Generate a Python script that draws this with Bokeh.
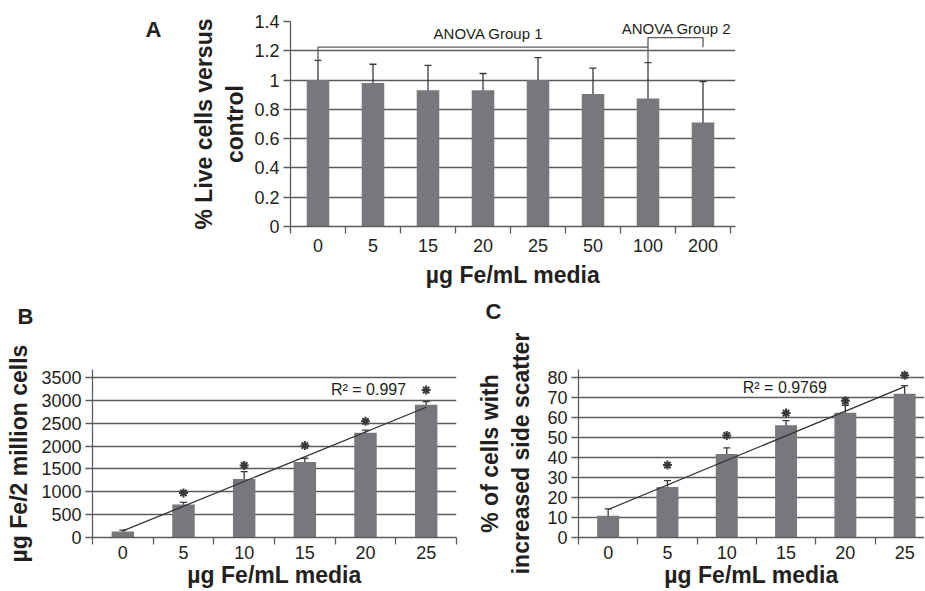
import numpy as np
from bokeh.plotting import figure
from bokeh.models import ColumnDataSource, FixedTicker, Whisker, TeeHead, Label, Range1d
from bokeh.layouts import column, row
from bokeh.core.properties import value
from bokeh.embed import file_html
from bokeh.resources import INLINE

# ---------------- data ----------------
# Panel A
a_categories = ["0", "5", "15", "20", "25", "50", "100", "200"]
a_values = [1.00, 0.98, 0.93, 0.93, 1.00, 0.905, 0.875, 0.71]
a_errors = [0.135, 0.128, 0.17, 0.115, 0.153, 0.177, 0.244, 0.28]
a_yticks = [0, 0.2, 0.4, 0.6, 0.8, 1.0, 1.2, 1.4]
a_ytick_labels = ["0", "0.2", "0.4", "0.6", "0.8", "1", "1.2", "1.4"]
anova_group1 = (0, 6)      # category indices spanned by bracket 1
anova_group2 = (6, 7)      # category indices spanned by bracket 2
anova_level1 = 1.225
anova_level2 = 1.29

# Panel B
b_categories = ["0", "5", "10", "15", "20", "25"]
b_values = [130, 720, 1281, 1650, 2290, 2902]
b_errors = [30, 50, 158, 83, 58, 72]
b_star_idx = [1, 2, 3, 4, 5]
b_star_y = [975, 1575, 2010, 2540, 3225]
b_yticks = [0, 500, 1000, 1500, 2000, 2500, 3000, 3500]
b_ytick_labels = ["0", "500", "1000", "1500", "2000", "2500", "3000", "3500"]
b_r2 = "R\u00b2 = 0.997"

# Panel C
c_categories = ["0", "5", "10", "15", "20", "25"]
c_values = [10.9, 25.3, 41.8, 56.1, 62.4, 71.8]
c_errors = [3.4, 3.1, 3.0, 2.3, 3.7, 4.1]
c_star_idx = [1, 2, 3, 4, 5]
c_star_y = [36.2, 51.0, 62.2, 68.3, 81.1]
c_yticks = [0, 10, 20, 30, 40, 50, 60, 70, 80]
c_ytick_labels = ["0", "10", "20", "30", "40", "50", "60", "70", "80"]
c_r2 = "R\u00b2 = 0.9769"

# ---------------- style ----------------
FONT = "Liberation Sans"
TEXT = "#231f20"
BAR = "#77787b"
GRID = "#5c5c5c"
ERR = "#3a3a3a"
XLABEL = "\u00b5g Fe/mL media"


def make_fig(width, height, mb_left, mb_right, mb_top, mb_bottom, xr, yr):
    p = figure(width=width, height=height, x_range=xr, y_range=yr,
               output_backend="svg", toolbar_location=None, tools="")
    p.min_border_left = mb_left
    p.min_border_right = mb_right
    p.min_border_top = mb_top
    p.min_border_bottom = mb_bottom
    p.outline_line_color = None
    p.background_fill_color = "white"
    p.border_fill_color = "white"
    return p


def style_axes(p, cats, yticks, ylabels, ylab, lab_std, xlab_standoff, ylab_standoff,
               xlab_size="23px", ylab_size="23px"):
    n = len(cats)
    p.xaxis.ticker = FixedTicker(ticks=list(range(n)),
                                 minor_ticks=[i - 0.5 for i in range(n + 1)])
    p.xaxis.major_label_overrides = {i: c for i, c in enumerate(cats)}
    p.xaxis.major_tick_line_color = None
    p.xaxis.major_tick_out = 0
    p.xaxis.major_tick_in = 0
    p.xaxis.minor_tick_line_color = GRID
    p.xaxis.minor_tick_line_width = 1.3
    p.xaxis.minor_tick_out = 7
    p.xaxis.minor_tick_in = 0
    p.xaxis.major_label_standoff = lab_std
    p.xaxis.axis_label = XLABEL
    p.xaxis.axis_label_standoff = xlab_standoff
    p.xaxis.axis_label_text_font_size = xlab_size

    p.yaxis.ticker = FixedTicker(ticks=yticks)
    p.yaxis.major_label_overrides = {t: l for t, l in zip(yticks, ylabels)}
    p.yaxis.major_tick_out = 7
    p.yaxis.major_tick_in = 0
    p.yaxis.major_tick_line_color = GRID
    p.yaxis.major_tick_line_width = 1.3
    p.yaxis.minor_tick_line_color = None
    p.yaxis.major_label_standoff = 4
    p.yaxis.axis_label = ylab
    p.yaxis.axis_label_standoff = ylab_standoff
    p.yaxis.axis_label_text_font_size = ylab_size

    for ax in (p.xaxis, p.yaxis):
        ax.axis_line_color = GRID
        ax.axis_line_width = 1.3
        ax.major_label_text_font = FONT
        ax.major_label_text_font_size = "18px"
        ax.major_label_text_color = TEXT
        ax.axis_label_text_font = FONT
        ax.axis_label_text_font_style = "bold"
        ax.axis_label_text_color = TEXT

    p.xgrid.grid_line_color = None
    p.ygrid.grid_line_color = GRID
    p.ygrid.grid_line_width = 1.3


def bars_with_errors(p, values, errors, bar_width):
    x = list(range(len(values)))
    src = ColumnDataSource(dict(
        x=x, top=values,
        upper=[v + e for v, e in zip(values, errors)],
        lower=[v - e for v, e in zip(values, errors)],
    ))
    p.vbar(x="x", top="top", width=bar_width, source=src,
           fill_color=BAR, line_color=None)
    w = Whisker(base="x", upper="upper", lower="lower", source=src,
                line_color=ERR, line_width=1.3,
                upper_head=TeeHead(size=7, line_color=ERR, line_width=1.3),
                lower_head=TeeHead(size=7, line_color=ERR, line_width=1.3))
    p.add_layout(w)


def trendline(p, values):
    x = np.arange(len(values))
    slope, intercept = np.polyfit(x, np.array(values, dtype=float), 1)
    xs = [x[0], x[-1]]
    p.line(xs, [intercept + slope * xs[0], intercept + slope * xs[1]],
           line_color="#333333", line_width=1.3)


def letter_fig(width, height, top, bottom, letters, xs, ys):
    """A plain strip (no axes) holding panel letters; y measured from the canvas top."""
    fh = height - top - bottom
    f = figure(width=width, height=height, x_range=Range1d(0, width),
               y_range=Range1d(0, fh), x_axis_type=None, y_axis_type=None,
               output_backend="svg", toolbar_location=None, tools="")
    f.min_border_left = 0
    f.min_border_right = 0
    f.min_border_top = top
    f.min_border_bottom = bottom
    f.outline_line_color = None
    f.grid.visible = False
    f.text(x=xs, y=[fh - (y - top) for y in ys], text=letters,
           text_font=value(FONT), text_font_style="bold", text_font_size="22px",
           text_color=TEXT, text_align="center", text_baseline="middle")
    return f


# ---------------- Panel A ----------------
A_LEFT = 180
A_TOP, A_BOTTOM = 21, 226
pA = make_fig(924 - A_LEFT, 290, 290 - A_LEFT, 924 - 735, A_TOP, 290 - A_BOTTOM,
              Range1d(-0.5, len(a_categories) - 0.5 + 5 / 55), Range1d(0, 1.4))
style_axes(pA, a_categories, a_yticks, a_ytick_labels,
           "% Live cells versus\ncontrol", 5, 7, 3)
bars_with_errors(pA, a_values, a_errors, 0.41)

g1a, g1b = anova_group1
g2a, g2b = anova_group2
top_a = [v + e for v, e in zip(a_values, a_errors)]
pA.multi_line(
    xs=[[g1a, g1a, g1b], [g1b, g1b], [g2a, g2b, g2b]],
    ys=[[top_a[g1a], anova_level1, anova_level1],
        [top_a[g1b], anova_level2],
        [anova_level2, anova_level2, anova_level1]],
    line_color=GRID, line_width=1.3)
pA.add_layout(Label(x=3.1, y=1.262, text="ANOVA Group 1", text_font=FONT,
                    text_font_size="15px", text_color=TEXT,
                    text_align="center", text_baseline="bottom"))
pA.add_layout(Label(x=6.52, y=1.293, text="ANOVA Group 2", text_font=FONT,
                    text_font_size="15px", text_color=TEXT,
                    text_align="center", text_baseline="bottom"))
letA = letter_fig(A_LEFT, 290, A_TOP, 290 - A_BOTTOM, ["A"], [153], [29])

# ---------------- letters strip for B and C ----------------
STRIP_TOP = 290
STRIP_H = 38
strip = letter_fig(924, STRIP_H, 0, 0, ["B", "C"], [25, 493],
                   [316 - STRIP_TOP, 311 - STRIP_TOP])

ROW2_TOP = STRIP_TOP + STRIP_H
ROW2_H = 590 - ROW2_TOP
FRAME_TOP = 369      # frame top of B and C (room for the top asterisk in C)
GRID_TOP = 377       # pixel row of the top gridline (3500 / 80)
AXIS_Y = 538         # pixel row of the x axis
MB_BOTTOM = 590 - AXIS_Y

# ---------------- Panel B ----------------
b_y_end = b_yticks[-1] * (AXIS_Y - FRAME_TOP) / (AXIS_Y - GRID_TOP)
pB = make_fig(470, ROW2_H, 92, 470 - 456, FRAME_TOP - ROW2_TOP, MB_BOTTOM,
              Range1d(-0.5, len(b_categories) - 0.5), Range1d(0, b_y_end))
style_axes(pB, b_categories, b_yticks, b_ytick_labels,
           "\u00b5g Fe/2 million cells", 1, 0, 6)
bars_with_errors(pB, b_values, b_errors, 0.37)
trendline(pB, b_values)
pB.scatter(b_star_idx, b_star_y, marker="asterisk", size=9,
           line_color=ERR, line_width=2)
pB.add_layout(Label(x=3.43, y=3060, text=b_r2, text_font=FONT,
                    text_font_size="16px", text_color=TEXT,
                    text_align="left", text_baseline="bottom"))

# ---------------- Panel C ----------------
C_START = 470
c_x_end = -0.5 + (924 - 578) / 59.3
c_y_end = c_yticks[-1] * (AXIS_Y - FRAME_TOP) / (AXIS_Y - GRID_TOP)
pC = make_fig(924 - C_START, ROW2_H, 578 - C_START, 0, FRAME_TOP - ROW2_TOP, MB_BOTTOM,
              Range1d(-0.5, c_x_end), Range1d(0, c_y_end))
style_axes(pC, c_categories, c_yticks, c_ytick_labels,
           "% of cells with\nincreased side scatter", 1, 0, 10)
bars_with_errors(pC, c_values, c_errors, 0.37)
trendline(pC, c_values)
pC.scatter(c_star_idx, c_star_y, marker="asterisk", size=9,
           line_color=ERR, line_width=2)
pC.add_layout(Label(x=2.27, y=70.8, text=c_r2, text_font=FONT,
                    text_font_size="16px", text_color=TEXT,
                    text_align="left", text_baseline="bottom"))

layout = column(row(letA, pA), strip, row(pB, pC))
open("out.html", "w").write(file_html(layout, INLINE))
